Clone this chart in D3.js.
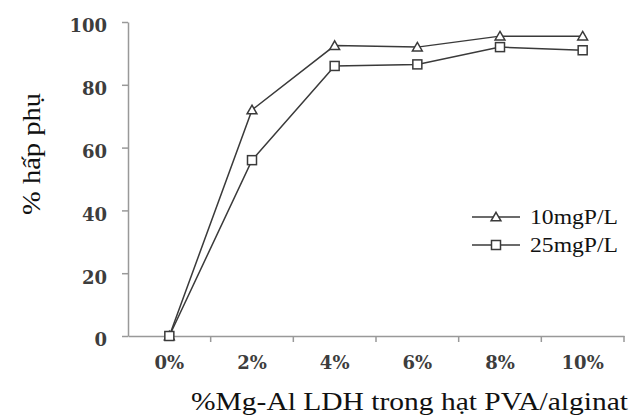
<!DOCTYPE html>
<html>
<head>
<meta charset="utf-8">
<script src="https://cdn.jsdelivr.net/npm/d3@7"></script>
<style>
  body { margin: 0; background: #fff; }
  svg { display: block; }
</style>
</head>
<body>
<svg id="chart" width="633" height="418"></svg>
<script>
// data
const categories = ["0%", "2%", "4%", "6%", "8%", "10%"];
const series10 = [0, 72, 92.5, 92, 95.5, 95.5];
const series25 = [0, 56, 86, 86.5, 92, 91];
const seriesNames = ["10mgP/L", "25mgP/L"];
const yTicks = [0, 20, 40, 60, 80, 100];

const plot = { left: 128, right: 624, top: 22, bottom: 336 };

const svg = d3.select("#chart");

const x = d3.scaleBand()
    .domain(categories)
    .range([plot.left, plot.right]);

const y = d3.scaleLinear()
    .domain([0, 100])
    .range([plot.bottom, plot.top]);

const axisColor = "#999";
const lineColor = "#3a3a3a";
const tickFont = "'DejaVu Serif', serif";
const titleFont = "'Times New Roman', 'Liberation Serif', Tinos, serif";

//y axis
const yAxis = svg.append("g")
    .attr("transform", `translate(${plot.left},0)`)
    .call(d3.axisLeft(y).tickValues(yTicks).tickSize(6).tickSizeOuter(0).tickPadding(15));
yAxis.select(".domain").attr("stroke", axisColor).attr("stroke-width", 1.5);
yAxis.selectAll(".tick line").attr("stroke", axisColor).attr("stroke-width", 1.5);
yAxis.selectAll(".tick text")
    .attr("fill", "#3d3d3d")
    .attr("font-family", tickFont)
    .attr("font-weight", "bold")
    .attr("font-size", 18)
    .attr("dy", "0.55em");

//x axis, ticks sit on the band edges
const xAxis = svg.append("g")
    .attr("transform", `translate(0,${plot.bottom})`)
    .call(d3.axisBottom(x).tickSize(0).tickPadding(28));
xAxis.select(".domain").attr("stroke", axisColor).attr("stroke-width", 1.5);
xAxis.selectAll(".tick text")
    .attr("fill", "#3d3d3d")
    .attr("font-family", tickFont)
    .attr("font-weight", "bold")
    .attr("font-size", 18)
    .attr("dy", "0.3em");

const edges = categories.map(c => x(c) + x.bandwidth());
svg.append("g").selectAll("line")
    .data(edges)
    .join("line")
    .attr("x1", d => d).attr("x2", d => d)
    .attr("y1", plot.bottom).attr("y2", plot.bottom + 6)
    .attr("stroke", axisColor)
    .attr("stroke-width", 1.5);

//axis titles (the source image is a bit stretched, so fit the lengths)
svg.append("text")
    .attr("transform", "translate(40,154) rotate(-90)")
    .attr("text-anchor", "middle")
    .attr("font-family", titleFont)
    .attr("font-size", 26)
    .attr("fill", "#111")
    .attr("textLength", 122)
    .attr("lengthAdjust", "spacingAndGlyphs")
    .text("% hấp phụ");

svg.append("text")
    .attr("x", 191)
    .attr("y", 410)
    .attr("font-family", titleFont)
    .attr("font-size", 26)
    .attr("fill", "#111")
    .attr("textLength", 437)
    .attr("lengthAdjust", "spacingAndGlyphs")
    .text("%Mg-Al LDH trong hạt PVA/alginat");

const cx = c => x(c) + x.bandwidth() / 2;

const line = d3.line()
    .x((d, i) => cx(categories[i]))
    .y(d => y(d));

function drawMarker(g, type, px, py) {
    if (type == "triangle") {
        g.append("path")
            .attr("d", d3.symbol(d3.symbolTriangle, 42)())
            .attr("transform", `translate(${px},${py + 1})`)
            .attr("fill", "#fff")
            .attr("stroke", lineColor)
            .attr("stroke-width", 1.5);
    } else {
        g.append("rect")
            .attr("x", px - 4.5).attr("y", py - 4.5)
            .attr("width", 9).attr("height", 9)
            .attr("fill", "#fff")
            .attr("stroke", lineColor)
            .attr("stroke-width", 1.5);
    }
}

const allSeries = [
    { values: series10, marker: "triangle" },
    { values: series25, marker: "square" }
];

allSeries.forEach(s => {
    svg.append("path")
        .datum(s.values)
        .attr("d", line)
        .attr("fill", "none")
        .attr("stroke", lineColor)
        .attr("stroke-width", 1.5);
});

allSeries.forEach(s => {
    const g = svg.append("g");
    s.values.forEach((v, i) => drawMarker(g, s.marker, cx(categories[i]), y(v)));
});

//legend
const legend = svg.append("g");
seriesNames.forEach((name, i) => {
    const ly = 217 + i * 28;
    legend.append("line")
        .attr("x1", 472).attr("x2", 520)
        .attr("y1", ly).attr("y2", ly)
        .attr("stroke", lineColor)
        .attr("stroke-width", 1.5);
    drawMarker(legend, allSeries[i].marker, 496, ly);
    legend.append("text")
        .attr("x", 530)
        .attr("y", ly + 7)
        .attr("font-family", titleFont)
        .attr("font-size", 20)
        .attr("fill", "#111")
        .attr("textLength", 88)
        .attr("lengthAdjust", "spacingAndGlyphs")
        .text(name);
});
</script>
</body>
</html>
